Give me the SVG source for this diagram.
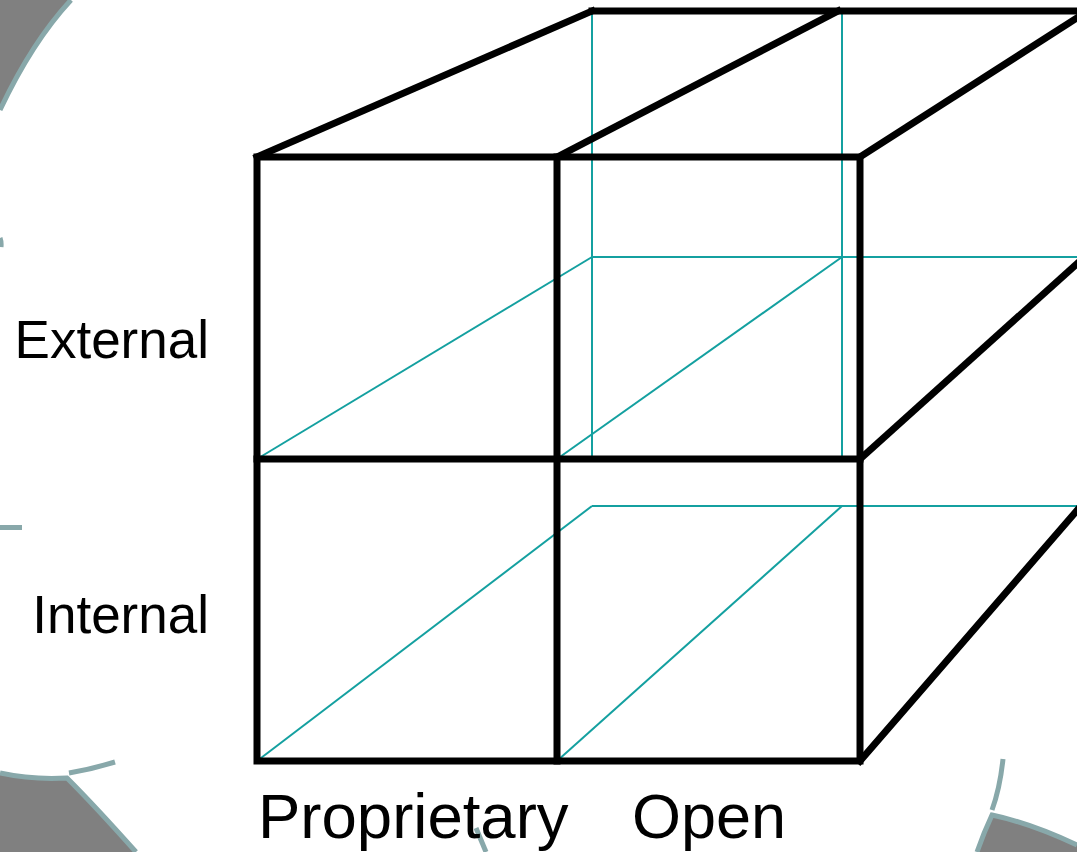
<svg xmlns="http://www.w3.org/2000/svg" width="1077" height="852" viewBox="0 0 1077 852">
<style>
.bg{fill:#808080;stroke:none}
.rim{fill:none;stroke:#88a8aa;stroke-width:5}
.hid{fill:none;stroke:#14a0a0;stroke-width:2}
.edge{fill:none;stroke:#000;stroke-width:7;stroke-linecap:square;stroke-linejoin:miter}
.lbl{font-family:"Liberation Sans",Arial,sans-serif;fill:#000}
</style>
<rect width="1077" height="852" fill="#fff"/>
<g id="background">
<path class="bg" d="M0 0 L71 0 Q32 42 0 110 Z"/>
<path class="rim" d="M71 0 Q32 42 0 110"/>
<path class="rim" d="M0 238 Q1.5 242 1 247" stroke-width="2"/>
<path class="rim" d="M0 527.5 L22 527.5"/>
<path class="bg" d="M0 773 Q32 780 67 778 Q95 806 136 852 L0 852 Z"/>
<path class="rim" d="M0 773 Q32 780 67 778 Q95 806 136 852"/>
<path class="rim" d="M69 773 Q92 769 115 762"/>
<path class="rim" d="M476 828 L486 852"/>
<path class="rim" d="M1003 759 Q1000 788 992 810"/>
<path class="bg" d="M992 815 Q1030 823 1077 845 L1077 852 L977 852 Q984 832 992 815 Z"/>
<path class="rim" d="M1077 845 Q1030 823 992 815 Q984 832 977 852"/>
</g>
<g id="connectors">
<g id="hidden-edges">
<line class="hid" x1="592" y1="12" x2="592" y2="456"/>
<line class="hid" x1="842" y1="12" x2="842" y2="456"/>
<line class="hid" x1="592" y1="257" x2="1077" y2="257"/>
<line class="hid" x1="592" y1="506" x2="1077" y2="506"/>
<line class="hid" x1="257" y1="459" x2="592" y2="257"/>
<line class="hid" x1="557" y1="459" x2="842" y2="257"/>
<line class="hid" x1="257" y1="761" x2="592" y2="506"/>
<line class="hid" x1="557" y1="761" x2="842" y2="506"/>
</g>
<g id="visible-edges">
<rect class="edge" x="257" y="157" width="603" height="604"/>
<line class="edge" x1="557" y1="157" x2="557" y2="761"/>
<line class="edge" x1="257" y1="459" x2="860" y2="459"/>
<line class="edge" x1="257" y1="157" x2="592" y2="11"/>
<line class="edge" x1="557" y1="157" x2="838" y2="11"/>
<line class="edge" x1="592" y1="11" x2="1080" y2="11"/>
<line class="edge" x1="860" y1="157" x2="1080" y2="16"/>
<line class="edge" x1="860" y1="459" x2="1080" y2="261"/>
<line class="edge" x1="860" y1="761" x2="1080" y2="507"/>
</g>
</g>
<g id="label-external"><text class="lbl" x="209" y="358" font-size="53" text-anchor="end">External</text></g>
<g id="label-internal"><text class="lbl" x="209" y="633" font-size="53" text-anchor="end">Internal</text></g>
<g id="label-proprietary"><text class="lbl" x="258" y="838" font-size="63.5">Proprietary</text></g>
<g id="label-open"><text class="lbl" x="632" y="838" font-size="63">Open</text></g>
</svg>
